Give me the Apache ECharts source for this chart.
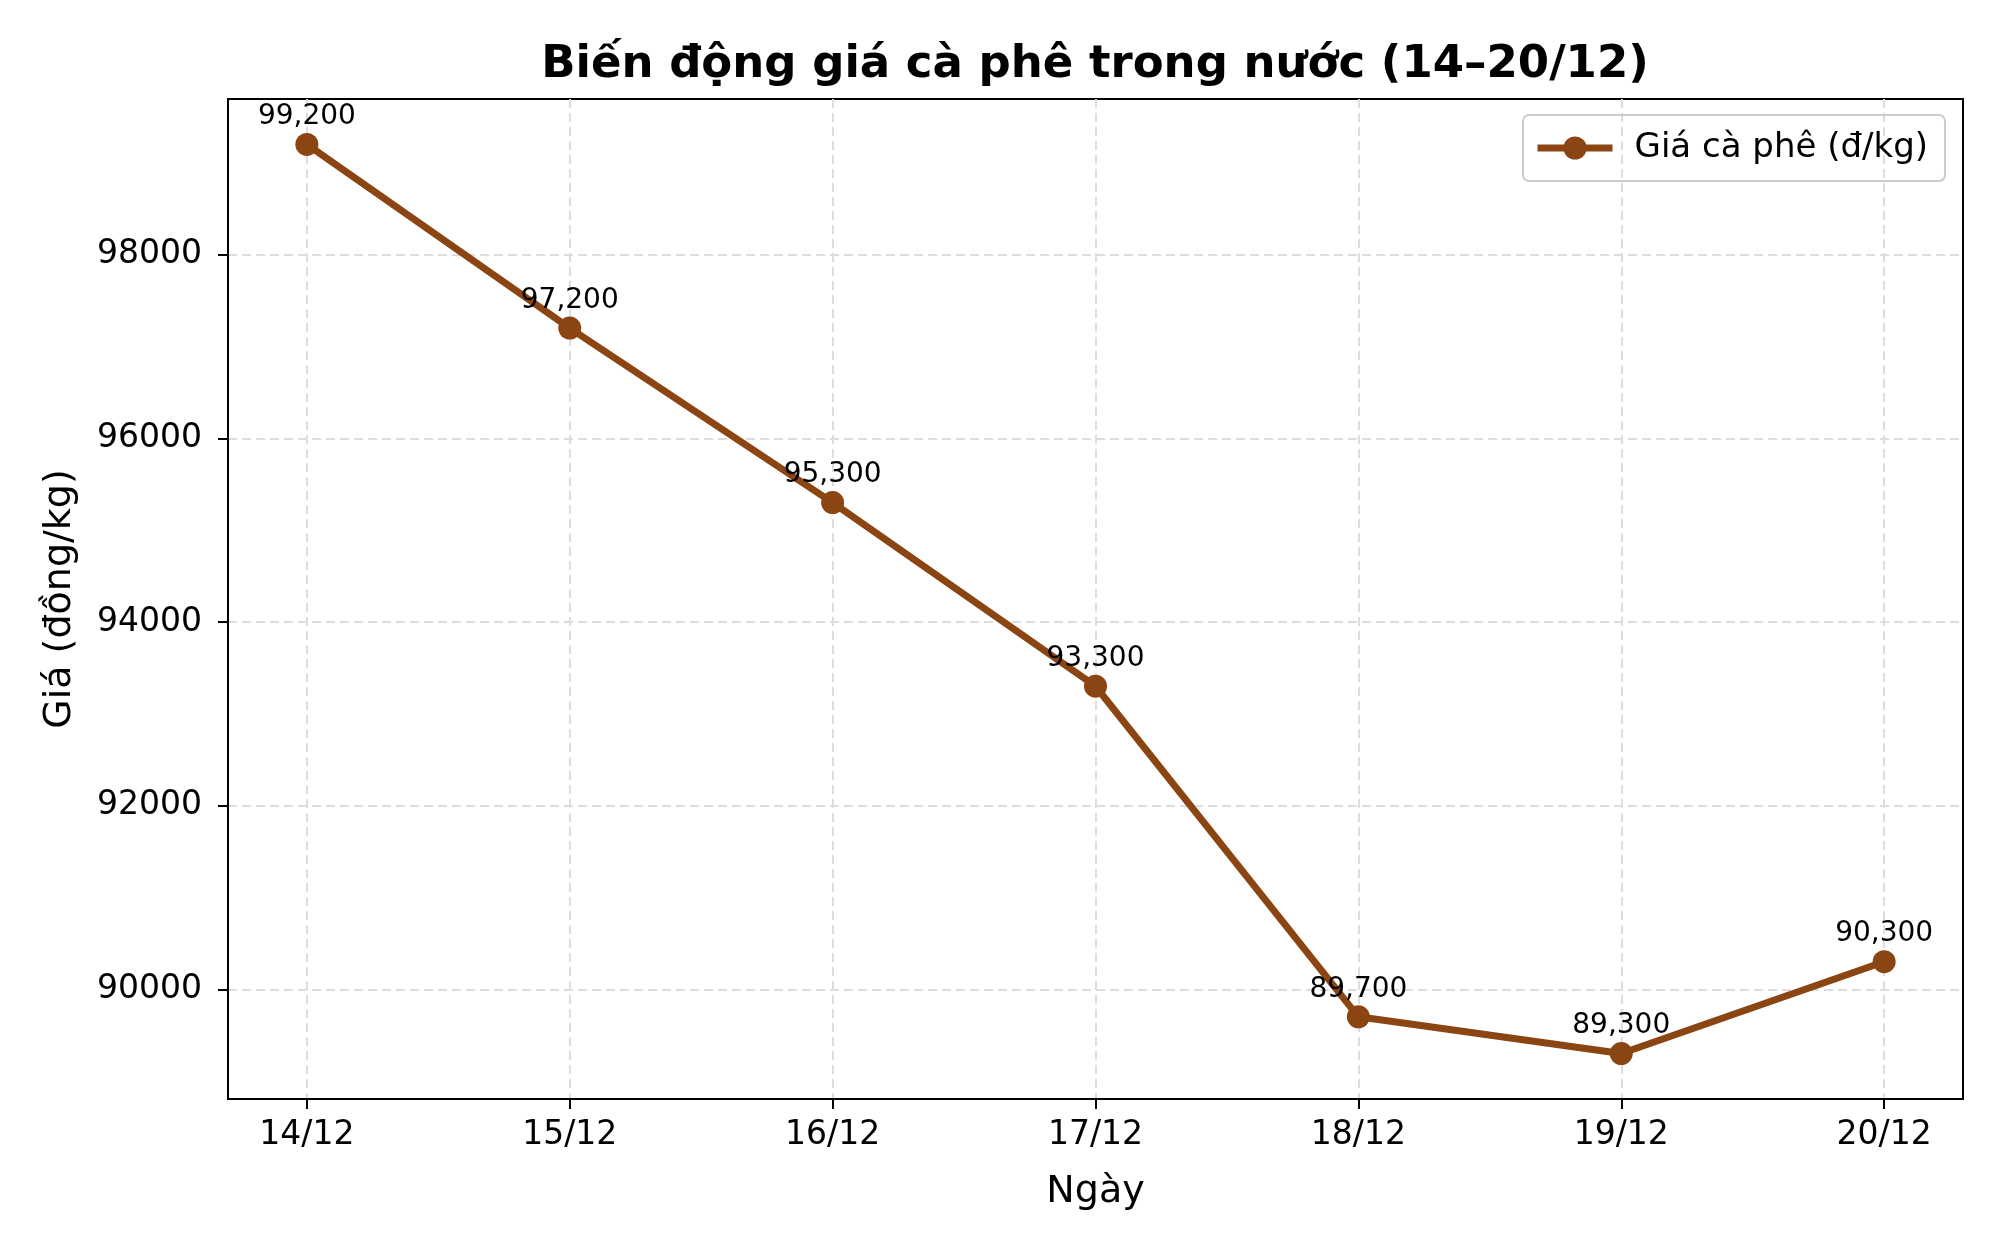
<!DOCTYPE html>
<html>
<head>
<meta charset="utf-8">
<script src="https://cdn.jsdelivr.net/npm/echarts@6/dist/echarts.min.js"></script>
<style>
  html, body { margin: 0; padding: 0; background: #fff; }
  #chart { width: 2000px; height: 1250px; }
</style>
</head>
<body>
<div id="chart"></div>
<script>
const days = ['14/12', '15/12', '16/12', '17/12', '18/12', '19/12', '20/12']
const prices = [99200, 97200, 95300, 93300, 89700, 89300, 90300]
const yTicks = [90000, 92000, 94000, 96000, 98000]

const font = 'DejaVu Sans'
const brown = '#8B4513'
const dayIdx = days.map((d, i) => i)

const chart = echarts.init(document.getElementById('chart'))

const option = {
  animation: false,
  backgroundColor: '#fff',
  textStyle: { fontFamily: font },
  title: {
    text: 'Biến động giá cà phê trong nước (14–20/12)',
    left: 1095,
    textAlign: 'center',
    top: 43,
    padding: 0,
    textStyle: { fontFamily: font, fontWeight: 'bold', fontSize: 45, color: '#000' }
  },
  legend: {
    right: 55,
    top: 115,
    padding: [16, 17, 16, 11],
    borderColor: '#cccccc',
    borderWidth: 2,
    borderRadius: 6,
    itemWidth: 75,
    itemHeight: 29,
    lineStyle: { width: 7 },
    textStyle: { fontFamily: font, fontSize: 34, color: '#000', padding: [0, 0, 0, 17] },
    data: ['Giá cà phê (đ/kg)']
  },
  grid: {
    left: 228,
    right: 37,
    top: 99,
    bottom: 151,
    show: true,
    borderColor: '#000',
    borderWidth: 2
  },
  xAxis: {
    type: 'value',
    min: -0.3,
    max: 6.3,
    name: 'Ngày',
    nameLocation: 'middle',
    nameGap: 74,
    nameTextStyle: { fontFamily: font, fontSize: 38, color: '#000' },
    axisLine: { onZero: false, lineStyle: { color: '#000', width: 2 } },
    axisTick: { customValues: dayIdx, length: 10, lineStyle: { color: '#000', width: 2 } },
    axisLabel: {
      customValues: dayIdx,
      margin: 20,
      fontFamily: font,
      fontSize: 33,
      color: '#000',
      formatter: v => days[Math.round(v)]
    },
    splitLine: { show: true, lineStyle: { color: '#dddddd', width: 2, type: [9, 5] } }
  },
  yAxis: {
    type: 'value',
    min: 88805,
    max: 99695,
    name: 'Giá (đồng/kg)',
    nameLocation: 'middle',
    nameGap: 149,
    nameTextStyle: { fontFamily: font, fontSize: 38, color: '#000' },
    axisLine: { show: true, onZero: false, lineStyle: { color: '#000', width: 2 } },
    axisTick: { show: true, customValues: yTicks, length: 10, lineStyle: { color: '#000', width: 2 } },
    axisLabel: {
      customValues: yTicks,
      margin: 26,
      fontFamily: font,
      fontSize: 33,
      color: '#000',
      formatter: v => String(v)
    },
    splitLine: { show: true, lineStyle: { color: '#dddddd', width: 2, type: [9, 5] } }
  },
  series: [{
    name: 'Giá cà phê (đ/kg)',
    type: 'line',
    data: prices.map((p, i) => [i, p]),
    symbol: 'circle',
    symbolSize: 23,
    color: brown,
    lineStyle: { color: brown, width: 7 },
    itemStyle: { color: brown },
    label: {
      show: true,
      position: 'top',
      distance: 2,
      fontFamily: font,
      fontSize: 28,
      color: '#000',
      formatter: p => p.value[1].toLocaleString('en-US')
    }
  }]
}

chart.setOption(option)
</script>
</body>
</html>
